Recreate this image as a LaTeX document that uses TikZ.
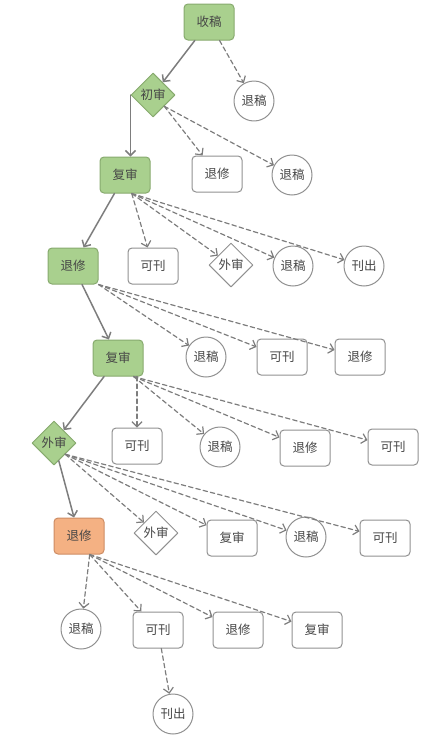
\documentclass[tikz,border=0pt]{standalone}
\usepackage{fontspec}
\setmainfont{Noto Sans CJK SC}
\usetikzlibrary{shapes.geometric,arrows.meta}
\definecolor{lvse}{RGB}{169,208,142}
\definecolor{lvbian}{RGB}{135,170,110}
\definecolor{cheng}{RGB}{244,177,131}
\definecolor{chengbian}{RGB}{205,140,100}
\definecolor{xian}{RGB}{125,125,125}
\definecolor{zi}{RGB}{70,70,70}
\begin{document}
\begin{tikzpicture}[x=1pt, y=-1pt, font=\fontsize{12.5}{14}\selectfont, line join=round, line cap=round, >={Straight Barb[length=5pt,width=10pt]},
 box/.style={draw=xian!85, rounded corners=4pt, minimum width=50pt, minimum height=36pt, text=zi, line width=1pt},
 quan/.style={draw=xian!85, circle, minimum size=40pt, inner sep=0pt, text=zi, line width=1pt},
 ling/.style={draw=xian!85, diamond, minimum width=44pt, minimum height=44pt, inner sep=0pt, text=zi, line width=1pt},
 lv/.style={fill=lvse, draw=lvbian},
 cheng/.style={fill=cheng, draw=chengbian},
 shi/.style={->, draw=xian, line width=1.5pt},
 xu/.style={->, draw=xian, line width=1.2pt, dash pattern=on 4.5pt off 3pt}]
 \useasboundingbox (0,0) rectangle (442,736);
 \node[box,lv] (sg) at (209,22) {收稿};
 \node[quan] (tg1) at (254,101) {退稿};
 \node[ling,lv] (cs) at (153,95) {初审};
 \node[box,lv] (fs1) at (125,175) {复审};
 \node[box] (tx1) at (217,174) {退修};
 \node[quan] (tg2) at (292,175) {退稿};
 \node[box,lv] (tx2) at (73,266) {退修};
 \node[box] (kk1) at (153,266) {可刊};
 \node[ling] (ws1) at (231,265) {外审};
 \node[quan] (tg3) at (293,266) {退稿};
 \node[quan] (kc1) at (364,266) {刊出};
 \node[box,lv] (fs2) at (118,358) {复审};
 \node[quan] (tg4) at (206,357) {退稿};
 \node[box] (kk2) at (282,357) {可刊};
 \node[box] (tx3) at (360,357) {退修};
 \node[ling,lv] (ws2) at (54,443) {外审};
 \node[box] (kk3) at (137,446) {可刊};
 \node[quan] (tg5) at (220,447) {退稿};
 \node[box] (tx4) at (305,448) {退修};
 \node[box] (kk4) at (393,447) {可刊};
 \node[box,cheng] (tx5) at (79,536) {退修};
 \node[ling] (ws3) at (156,533) {外审};
 \node[box] (fs3) at (232,538) {复审};
 \node[quan] (tg6) at (306,537) {退稿};
 \node[box] (kk5) at (385,538) {可刊};
 \node[quan] (tg7) at (81,629) {退稿};
 \node[box] (kk6) at (158,630) {可刊};
 \node[box] (tx6) at (238,630) {退修};
 \node[box] (fs4) at (317,630) {复审};
 \node[quan] (kc2) at (173,714) {刊出};
 \draw[shi] (sg) -- (cs);
 \draw[shi] (cs.west) -- (cs.west |- fs1.north);
 \draw[shi] (fs1) -- (tx2);
 \draw[shi] (tx2) -- (fs2);
 \draw[shi] (fs2) -- (ws2);
 \draw[shi] (ws2) -- (tx5);
 \draw[xu] (sg) -- (tg1);
 \draw[xu] (cs.south east) -- (tx1);
 \draw[xu] (cs.south east) -- (tg2);
 \draw[xu] (fs1.-70) -- (kk1);
 \draw[xu] (fs1.-70) -- (ws1);
 \draw[xu] (fs1.-70) -- (tg3);
 \draw[xu] (fs1.-70) -- (kc1);
 \draw[xu] (tx2.south east) -- (tg4);
 \draw[xu] (tx2.south east) -- (kk2);
 \draw[xu] (tx2.south east) -- (tx3);
 \draw[xu] (kk3.north |- fs2.south) -- (kk3.north);
 \draw[xu] (fs2.-50) -- (tg5);
 \draw[xu] (fs2.-50) -- (tx4);
 \draw[xu] (fs2.-50) -- (kk4);
 \draw[xu] (ws2.south east) -- (ws3);
 \draw[xu] (ws2.south east) -- (fs3);
 \draw[xu] (ws2.south east) -- (tg6);
 \draw[xu] (ws2.south east) -- (kk5);
 \draw[xu] (tx5.-60) -- (tg7);
 \draw[xu] (tx5.-60) -- (kk6);
 \draw[xu] (tx5.-60) -- (tx6);
 \draw[xu] (tx5.-60) -- (fs4);
 \draw[xu] (kk6) -- (kc2);
\end{tikzpicture}
\end{document}
